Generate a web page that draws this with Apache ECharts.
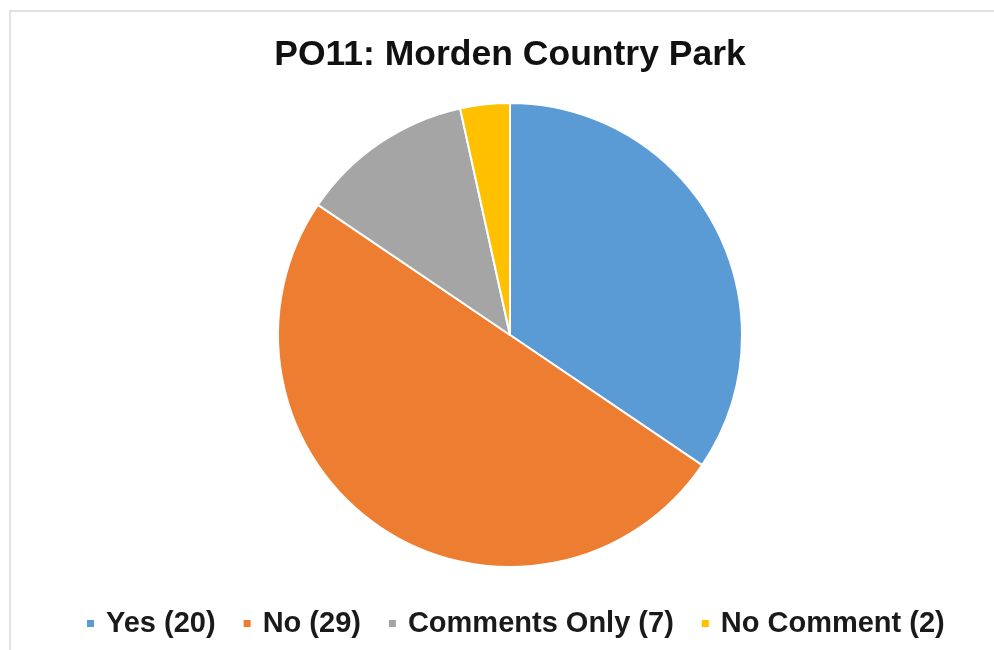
<!DOCTYPE html>
<html lang="en">
<head>
<meta charset="utf-8">
<title>PO11: Morden Country Park</title>
<script src="https://cdn.jsdelivr.net/npm/echarts@6/dist/echarts.min.js"></script>
<style>
html, body { margin: 0; padding: 0; background: #fff; }
#main { width: 994px; height: 650px; }
</style>
</head>
<body>
<div id="main"></div>
<script>
var categories = ['Yes (20)', 'No (29)', 'Comments Only (7)', 'No Comment (2)'];
var values = [20, 29, 7, 2];
var colors = ['#5B9BD5', '#ED7D31', '#A5A5A5', '#FFC000'];

var chart = echarts.init(document.getElementById('main'));

var pieData = [];
for (var i = 0; i < categories.length; i++) {
  pieData.push({ name: categories[i], value: values[i], itemStyle: { color: colors[i] } });
}

chart.setOption({
  backgroundColor: '#fff',
  animation: false,
  graphic: [{
    type: 'rect',
    shape: { x: 10, y: 11, width: 1000, height: 700 },
    style: { fill: 'none', stroke: '#d9d9d9', lineWidth: 1.5 }
  }],
  title: {
    text: 'PO11: Morden Country Park',
    left: 505,
    textAlign: 'center',
    top: 32,
    textStyle: { fontFamily: 'Liberation Sans, Arial, sans-serif', fontWeight: 'bold', fontSize: 35.5, color: '#111' }
  },
  legend: {
    top: 604,
    left: 80,
    icon: 'rect',
    itemWidth: 9,
    itemHeight: 9,
    itemGap: 26,
    selectedMode: false,
    textStyle: { fontFamily: 'Liberation Sans, Arial, sans-serif', fontWeight: 'bold', fontSize: 29, color: '#1a1a1a', padding: [0, 0, 0, 6] },
    data: categories
  },
  series: [{
    type: 'pie',
    center: [510, 335],
    radius: 232,
    startAngle: 90,
    clockwise: true,
    label: { show: false },
    labelLine: { show: false },
    emphasis: { disabled: true },
    itemStyle: { borderColor: '#fff', borderWidth: 2 },
    data: pieData
  }]
});
</script>
</body>
</html>
